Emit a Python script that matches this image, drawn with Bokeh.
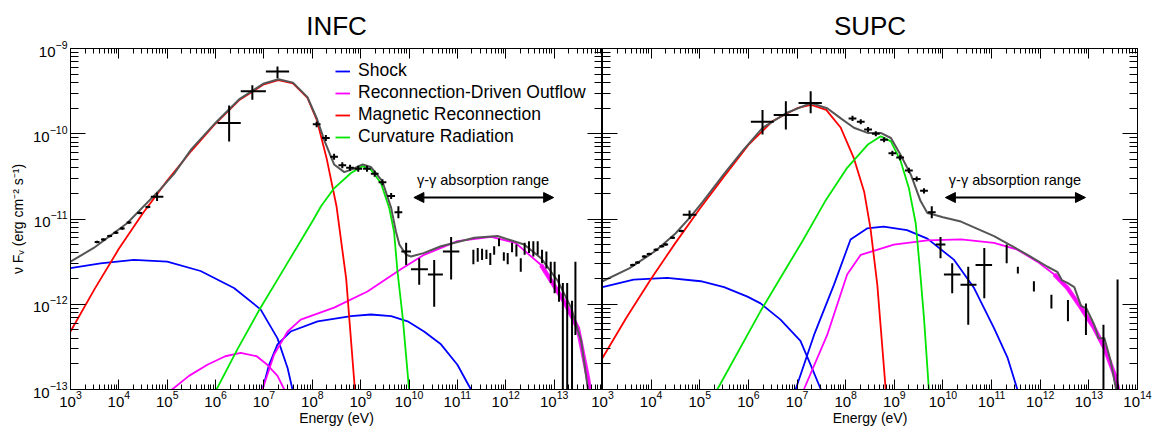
import numpy as np
from bokeh.plotting import figure
from bokeh.layouts import row
from bokeh.models import (LogAxis, FixedTicker, CustomJSTickFormatter, Label, Arrow,
                          NormalHead, Legend, LegendItem)
from bokeh.embed import file_html
from bokeh.resources import INLINE

FONT = "Liberation Sans"
C_SHOCK = "#0000ff"
C_OUT = "#ff00ff"
C_REC = "#ff0000"
C_CURV = "#00e600"
C_TOT = "#555555"

# ---------------- INFC (log10 E [eV], log10 nuFnu [erg cm^-2 s^-1]) ----------------
infc_shock_lo_E = [3.0, 3.62, 4.31, 5.00, 5.69, 6.38, 6.93, 7.28, 7.49, 7.59, 7.63]
infc_shock_lo_F = [-11.575, -11.52, -11.48, -11.50, -11.61, -11.81, -12.06, -12.40, -12.75, -13.0, -13.1]
infc_shock_hi_E = [6.93, 6.97, 7.10, 7.28, 7.55, 8.11, 8.80, 9.21, 9.63, 9.97, 10.31, 10.66, 11.00, 11.28, 11.32]
infc_shock_hi_F = [-13.1, -13.0, -12.72, -12.47, -12.32, -12.20, -12.14, -12.12, -12.14, -12.20, -12.32, -12.47, -12.71, -13.0, -13.06]
infc_out_lo_E = [5.0, 5.10, 5.45, 5.83, 6.20, 6.52, 6.85, 7.07, 7.28, 7.42, 7.47]
infc_out_lo_F = [-13.05, -13.0, -12.84, -12.71, -12.61, -12.57, -12.61, -12.71, -12.84, -13.0, -13.08]
infc_out_hi_E = [6.93, 6.97, 7.21, 7.49, 7.76, 8.45, 9.14, 9.83, 10.31, 11.00, 11.70, 12.20, 12.73, 13.21, 13.49, 13.70, 13.76]
infc_out_hi_F = [-13.1, -13.0, -12.59, -12.32, -12.18, -12.04, -11.85, -11.59, -11.42, -11.26, -11.21, -11.28, -11.54, -11.97, -12.28, -12.87, -13.1]
infc_rec_E = [3.0, 3.5, 4.0, 4.5, 5.0, 5.5, 6.0, 6.5, 7.0, 7.3, 7.6, 7.9, 8.1, 8.3, 8.5, 8.7, 8.88, 8.95]
infc_rec_F = [-12.32, -11.82, -11.35, -10.93, -10.55, -10.20, -9.88, -9.60, -9.42, -9.37, -9.41, -9.58, -9.85, -10.30, -10.85, -11.70, -13.0, -13.4]
infc_curv_E = [6.0, 6.45, 6.89, 7.45, 8.00, 8.18, 8.45, 8.80, 9.04, 9.21, 9.42, 9.59, 9.69, 9.76, 9.87, 10.00, 10.03]
infc_curv_F = [-13.02, -12.53, -12.08, -11.55, -11.03, -10.85, -10.64, -10.46, -10.38, -10.42, -10.58, -10.87, -11.15, -11.61, -12.16, -13.0, -13.2]
infc_tot_E = [3.0, 3.48, 4.17, 4.86, 5.14, 5.5, 6.0, 6.5, 7.0, 7.3, 7.6, 7.9, 8.1, 8.25, 8.45, 8.66, 8.85,
              9.04, 9.21, 9.45, 9.63, 9.73, 9.80, 9.94, 10.04, 10.30, 10.66, 11.35, 11.83, 12.38, 12.73,
              13.08, 13.35, 13.56, 13.70, 13.76]
infc_tot_F = [-11.50, -11.34, -11.05, -10.65, -10.47, -10.18, -9.87, -9.59, -9.41, -9.36, -9.40, -9.57, -9.83,
              -10.08, -10.36, -10.45, -10.41, -10.36, -10.39, -10.56, -10.87, -11.15, -11.30, -11.42, -11.44,
              -11.40, -11.32, -11.22, -11.20, -11.30, -11.46, -11.73, -12.04, -12.43, -13.0, -13.15]

# INFC data points
infc_xray_E = [3.55, 3.68, 3.81, 3.94, 4.07, 4.21, 4.43, 4.60, 4.79]
infc_xray_F = [-11.27, -11.24, -11.20, -11.16, -11.11, -11.04, -10.93, -10.86, -10.74]
infc_xray_dE = [0.05, 0.05, 0.05, 0.05, 0.05, 0.05, 0.05, 0.05, 0.13]
infc_xray_dF = [0.015, 0.015, 0.015, 0.015, 0.015, 0.015, 0.015, 0.015, 0.05]
infc_mev_E = [6.28, 6.76, 7.28]
infc_mev_Elo = [6.04, 6.52, 7.04]
infc_mev_Ehi = [6.52, 7.04, 7.52]
infc_mev_F = [-9.875, -9.50, -9.27]
infc_mev_Flo = [-10.09, -9.60, -9.35]
infc_mev_Fhi = [-9.67, -9.43, -9.21]
infc_lat_E = [8.09, 8.28, 8.45, 8.62, 8.78, 8.95, 9.13, 9.29, 9.45, 9.63, 9.78]
infc_lat_F = [-9.89, -10.05, -10.27, -10.37, -10.40, -10.41, -10.41, -10.47, -10.57, -10.73, -10.92]
infc_lat_dE = [0.08] * 11
infc_lat_dF = [0.035] * 10 + [0.07]
infc_gev_E = [9.94, 10.21, 10.52, 10.87]
infc_gev_Elo = [9.84, 10.04, 10.39, 10.70]
infc_gev_Ehi = [10.04, 10.39, 10.70, 11.04]
infc_gev_F = [-11.38, -11.59, -11.65, -11.38]
infc_gev_Flo = [-11.54, -11.77, -12.03, -11.71]
infc_gev_Fhi = [-11.28, -11.46, -11.48, -11.21]
infc_vhe_E = [11.33, 11.42, 11.51, 11.60, 11.68, 11.76, 11.86, 11.96, 12.04, 12.13, 12.22, 12.31, 12.39,
              12.48, 12.57, 12.66, 12.75, 12.84, 12.93, 13.01, 13.10, 13.18, 13.27, 13.37, 13.44]
infc_vhe_F = [-11.45, -11.42, -11.41, -11.42, -11.47, -11.37, -11.27, -11.44, -11.46, -11.33, -11.37, -11.54,
              -11.35, -11.33, -11.35, -11.34, -11.44, -11.48, -11.62, -11.69, -11.81, -12.0, -12.04, -12.16, -11.93]
infc_vhe_Flo = [-11.53, -11.50, -11.48, -11.47, -11.54, -11.42, -11.32, -11.49, -11.53, -11.39, -11.44, -11.62,
                -11.42, -11.40, -11.44, -11.42, -11.52, -11.58, -11.75, -11.87, -11.97, -14.0, -14.0, -14.0, -12.36]
infc_vhe_Fhi = [-11.36, -11.34, -11.35, -11.36, -11.40, -11.32, -11.23, -11.39, -11.40, -11.28, -11.30, -11.46,
                -11.28, -11.26, -11.26, -11.26, -11.36, -11.38, -11.50, -11.50, -11.65, -11.75, -11.75, -11.96, -11.50]

# ---------------- SUPC ----------------
supc_shock_lo_E = [3.0, 3.64, 4.33, 5.02, 5.5, 5.98, 6.25, 6.66, 7.07, 7.28, 7.49, 7.55]
supc_shock_lo_F = [-11.80, -11.71, -11.69, -11.73, -11.80, -11.91, -11.99, -12.18, -12.43, -12.71, -13.0, -13.1]
supc_shock_hi_E = [6.92, 6.97, 7.35, 7.76, 8.10, 8.44, 8.78, 9.26, 9.68, 10.23, 10.64, 11.05, 11.33, 11.53, 11.58]
supc_shock_hi_F = [-13.1, -13.0, -12.36, -11.77, -11.24, -11.11, -11.09, -11.13, -11.23, -11.48, -11.81, -12.28, -12.63, -13.0, -13.1]
supc_out_E = [7.08, 7.14, 7.62, 8.03, 8.31, 8.99, 9.68, 10.37, 11.05, 11.53, 11.94, 12.29, 12.56, 12.84, 13.11, 13.32, 13.53, 13.60, 13.64]
supc_out_F = [-13.1, -13.0, -12.36, -11.65, -11.42, -11.30, -11.25, -11.24, -11.28, -11.36, -11.50, -11.65, -11.81, -12.04, -12.28, -12.51, -12.83, -13.0, -13.1]
supc_rec_E = [3.0, 3.5, 4.0, 4.5, 5.0, 5.5, 6.0, 6.5, 7.0, 7.28, 7.6, 7.9, 8.17, 8.38, 8.51, 8.65, 8.82, 8.86]
supc_rec_F = [-12.63, -12.15, -11.70, -11.28, -10.88, -10.50, -10.13, -9.85, -9.70, -9.66, -9.72, -9.93, -10.29, -10.68, -11.11, -11.77, -12.98, -13.2]
supc_curv_E = [5.33, 5.36, 6.25, 6.66, 7.11, 7.58, 8.03, 8.45, 8.72, 8.93, 9.13, 9.30, 9.44, 9.52, 9.61, 9.71, 9.74]
supc_curv_F = [-13.05, -13.0, -12.08, -11.69, -11.26, -10.79, -10.40, -10.13, -10.03, -10.09, -10.32, -10.64, -11.05, -11.55, -12.16, -13.0, -13.2]
supc_tot_E = [3.0, 3.55, 4.10, 4.50, 4.80, 5.06, 5.5, 5.88, 6.29, 6.77, 7.28, 7.62, 7.90, 8.17, 8.45, 8.72, 8.93,
              9.13, 9.34, 9.54, 9.68, 9.82, 10.0, 10.37, 11.05, 11.74, 12.15, 12.35, 12.45, 12.56, 12.70, 12.84,
              12.95, 13.11, 13.20, 13.32, 13.45, 13.56, 13.62]
supc_tot_F = [-11.73, -11.58, -11.37, -11.17, -10.98, -10.80, -10.47, -10.20, -9.93, -9.76, -9.64, -9.70, -9.82,
              -9.93, -9.99, -9.99, -10.05, -10.25, -10.48, -10.79, -10.93, -10.95, -10.98, -11.03, -11.20, -11.42,
              -11.56, -11.62, -11.72, -11.75, -11.80, -12.02, -12.05, -12.24, -12.40, -12.40, -12.67, -13.0, -13.2]

supc_xray_E = [3.62, 3.72, 3.86, 3.96, 4.10, 4.22, 4.30, 4.44, 4.62, 4.79]
supc_xray_F = [-11.54, -11.51, -11.44, -11.41, -11.36, -11.32, -11.30, -11.22, -11.14, -10.95]
supc_xray_dE = [0.05] * 9 + [0.14]
supc_xray_dF = [0.015] * 9 + [0.05]
supc_mev_E = [6.29, 6.77, 7.28]
supc_mev_Elo = [6.05, 6.52, 7.03]
supc_mev_Ehi = [6.52, 7.03, 7.51]
supc_mev_F = [-9.86, -9.78, -9.64]
supc_mev_Flo = [-10.01, -9.95, -9.76]
supc_mev_Fhi = [-9.72, -9.62, -9.50]
supc_lat_E = [8.14, 8.31, 8.46, 8.62, 8.79, 8.96, 9.12, 9.30, 9.46, 9.61, 9.77]
supc_lat_F = [-9.82, -9.86, -9.95, -10.00, -10.07, -10.23, -10.28, -10.43, -10.53, -10.67, -10.92]
supc_lat_dE = [0.08] * 11
supc_lat_dF = [0.03] * 10 + [0.07]
supc_gev_E = [9.95, 10.19, 10.52, 10.85]
supc_gev_Elo = [9.85, 10.02, 10.36, 10.67]
supc_gev_Ehi = [10.05, 10.36, 10.69, 11.01]
supc_gev_F = [-11.30, -11.65, -11.77, -11.54]
supc_gev_Flo = [-11.46, -11.87, -12.24, -11.93]
supc_gev_Fhi = [-11.21, -11.52, -11.56, -11.34]
supc_vhe_E = [11.31, 11.54, 11.87, 12.23, 12.57, 12.94, 13.30, 13.59]
supc_vhe_F = [-11.42, -11.60, -11.80, -11.97, -12.08, -12.18, -12.55, -12.36]
supc_vhe_Flo = [-11.52, -11.64, -11.85, -12.05, -12.20, -12.36, -14.0, -14.0]
supc_vhe_Fhi = [-11.30, -11.56, -11.73, -11.89, -11.95, -11.99, -12.24, -11.71]

legend_labels = ["Shock", "Reconnection-Driven Outflow", "Magnetic Reconnection", "Curvature Radiation"]
x_tick_exp = list(range(3, 15))
y_tick_exp = list(range(-13, -8))

XMIN = [m * 10.0 ** k for k in range(3, 14) for m in range(2, 10)]
YMIN = [m * 10.0 ** k for k in range(-13, -9) for m in range(2, 10)]
YMAJ = [10.0 ** k for k in y_tick_exp]


def P(a):
    return 10.0 ** np.asarray(a, dtype=float)


def style_axis(ax, tin, tmin, labels=True):
    ax.major_tick_in = tin
    ax.major_tick_out = 0
    ax.minor_tick_in = tmin
    ax.minor_tick_out = 0
    ax.axis_line_color = "black"
    ax.major_tick_line_color = "black"
    ax.minor_tick_line_color = "black"
    ax.major_label_text_font = FONT
    ax.major_label_text_color = "black"
    if labels:
        ax.major_label_text_font_size = "15px"
        ax.major_label_standoff = 1
    else:
        ax.formatter = CustomJSTickFormatter(code="return ''")
        ax.major_label_text_font_size = "0px"
        ax.major_label_standoff = 0


def make_fig(title, fw, left, right, xmajor, ylabels):
    p = figure(x_axis_type="log", y_axis_type="log", x_range=(1e3, 1e14), y_range=(1e-13, 1e-9),
               frame_width=fw, frame_height=341, min_border_left=left, min_border_right=right,
               min_border_top=47, min_border_bottom=30, output_backend="svg",
               toolbar_location=None, title=title)
    p.title.text_font = FONT
    p.title.text_font_size = "26px"
    p.title.text_font_style = "normal"
    p.title.text_color = "black"
    p.title.align = "center"
    p.title.standoff = 16
    p.xgrid.visible = False
    p.ygrid.visible = False
    p.outline_line_color = "black"
    p.background_fill_color = "white"

    p.xaxis.ticker = FixedTicker(ticks=xmajor, minor_ticks=XMIN)
    style_axis(p.xaxis[0], 10, 5)
    p.xaxis.axis_label = "Energy (eV)"
    p.xaxis.axis_label_text_font = FONT
    p.xaxis.axis_label_text_font_size = "14px"
    p.xaxis.axis_label_text_font_style = "normal"
    p.xaxis.axis_label_text_color = "black"
    p.xaxis.axis_label_standoff = 0

    p.yaxis.ticker = FixedTicker(ticks=YMAJ, minor_ticks=YMIN)
    style_axis(p.yaxis[0], 15, 8, labels=ylabels)
    if ylabels:
        p.yaxis.major_label_standoff = 3
        p.yaxis.axis_label = "\u03bd F\u1d65 (erg cm\u207b\u00b2 s\u207b\u00b9)"
        p.yaxis.axis_label_text_font = FONT
        p.yaxis.axis_label_text_font_size = "14px"
        p.yaxis.axis_label_text_font_style = "normal"
        p.yaxis.axis_label_text_color = "black"
        p.yaxis.axis_label_standoff = 4

    top = LogAxis(ticker=FixedTicker(ticks=xmajor, minor_ticks=XMIN))
    style_axis(top, 10, 5, labels=False)
    p.add_layout(top, "above")
    rgt = LogAxis(ticker=FixedTicker(ticks=YMAJ, minor_ticks=YMIN))
    style_axis(rgt, 15, 8, labels=False)
    p.add_layout(rgt, "right")
    return p


def line(p, E, F, color, width=1.8):
    return p.line(P(E), P(F), line_color=color, line_width=width, line_join="round")


def crosses(p, E, F, Elo, Ehi, Flo, Fhi):
    p.segment(x0=P(Elo), y0=P(F), x1=P(Ehi), y1=P(F), line_color="black", line_width=2)
    p.segment(x0=P(E), y0=P(Flo), x1=P(E), y1=P(Fhi), line_color="black", line_width=2)


def sym(E, F, dE, dF):
    E, F, dE, dF = map(np.asarray, (E, F, dE, dF))
    return E, F, E - dE, E + dE, F - dF, F + dF


def panel(p, d):
    r_s1 = line(p, d["shock_lo_E"], d["shock_lo_F"], C_SHOCK)
    line(p, d["shock_hi_E"], d["shock_hi_F"], C_SHOCK)
    r_o = None
    for E, F in d["out"]:
        r = line(p, E, F, C_OUT)
        r_o = r_o or r
        E = np.asarray(E); F = np.asarray(F)
        m = E >= d["noisy_from"]
        if m.sum() > 1:
            p.line(P(E[m]), P(F[m]), line_color=C_OUT, line_width=4.5, line_alpha=0.9)
    r_r = line(p, d["rec_E"], d["rec_F"], C_REC)
    r_c = line(p, d["curv_E"], d["curv_F"], C_CURV)
    line(p, d["tot_E"], d["tot_F"], C_TOT, width=2)
    crosses(p, *sym(d["xray_E"], d["xray_F"], d["xray_dE"], d["xray_dF"]))
    crosses(p, d["mev_E"], d["mev_F"], d["mev_Elo"], d["mev_Ehi"], d["mev_Flo"], d["mev_Fhi"])
    crosses(p, *sym(d["lat_E"], d["lat_F"], d["lat_dE"], d["lat_dF"]))
    crosses(p, d["gev_E"], d["gev_F"], d["gev_Elo"], d["gev_Ehi"], d["gev_Flo"], d["gev_Fhi"])
    crosses(p, d["vhe_E"], d["vhe_F"], d["vhe_E"], d["vhe_E"], d["vhe_Flo"], d["vhe_Fhi"])
    return [r_s1, r_o, r_r, r_c]


def gg_annotation(p, e0, e1, ef, ytxt, yarr):
    p.add_layout(Arrow(start=NormalHead(size=10, fill_color="black", line_color="black"),
                       end=NormalHead(size=10, fill_color="black", line_color="black"),
                       x_start=10 ** e0, x_end=10 ** e1, y_start=10 ** yarr, y_end=10 ** yarr,
                       line_color="black", line_width=2))
    p.add_layout(Label(x=10 ** ef, y=10 ** ytxt, text="\u03b3-\u03b3 absorption range",
                       text_align="center", text_baseline="middle", text_font=FONT,
                       text_font_size="14.5px", text_color="black"))


infc = dict(shock_lo_E=infc_shock_lo_E, shock_lo_F=infc_shock_lo_F,
            shock_hi_E=infc_shock_hi_E, shock_hi_F=infc_shock_hi_F,
            out=[(infc_out_lo_E, infc_out_lo_F), (infc_out_hi_E, infc_out_hi_F)], noisy_from=12.7,
            rec_E=infc_rec_E, rec_F=infc_rec_F, curv_E=infc_curv_E, curv_F=infc_curv_F,
            tot_E=infc_tot_E, tot_F=infc_tot_F,
            xray_E=infc_xray_E, xray_F=infc_xray_F, xray_dE=infc_xray_dE, xray_dF=infc_xray_dF,
            mev_E=infc_mev_E, mev_F=infc_mev_F, mev_Elo=infc_mev_Elo, mev_Ehi=infc_mev_Ehi,
            mev_Flo=infc_mev_Flo, mev_Fhi=infc_mev_Fhi,
            lat_E=infc_lat_E, lat_F=infc_lat_F, lat_dE=infc_lat_dE, lat_dF=infc_lat_dF,
            gev_E=infc_gev_E, gev_F=infc_gev_F, gev_Elo=infc_gev_Elo, gev_Ehi=infc_gev_Ehi,
            gev_Flo=infc_gev_Flo, gev_Fhi=infc_gev_Fhi,
            vhe_E=infc_vhe_E, vhe_F=infc_vhe_F, vhe_Flo=infc_vhe_Flo, vhe_Fhi=infc_vhe_Fhi)
supc = dict(shock_lo_E=supc_shock_lo_E, shock_lo_F=supc_shock_lo_F,
            shock_hi_E=supc_shock_hi_E, shock_hi_F=supc_shock_hi_F,
            out=[(supc_out_E, supc_out_F)], noisy_from=12.0,
            rec_E=supc_rec_E, rec_F=supc_rec_F, curv_E=supc_curv_E, curv_F=supc_curv_F,
            tot_E=supc_tot_E, tot_F=supc_tot_F,
            xray_E=supc_xray_E, xray_F=supc_xray_F, xray_dE=supc_xray_dE, xray_dF=supc_xray_dF,
            mev_E=supc_mev_E, mev_F=supc_mev_F, mev_Elo=supc_mev_Elo, mev_Ehi=supc_mev_Ehi,
            mev_Flo=supc_mev_Flo, mev_Fhi=supc_mev_Fhi,
            lat_E=supc_lat_E, lat_F=supc_lat_F, lat_dE=supc_lat_dE, lat_dF=supc_lat_dF,
            gev_E=supc_gev_E, gev_F=supc_gev_F, gev_Elo=supc_gev_Elo, gev_Ehi=supc_gev_Ehi,
            gev_Flo=supc_gev_Flo, gev_Fhi=supc_gev_Fhi,
            vhe_E=supc_vhe_E, vhe_F=supc_vhe_F, vhe_Flo=supc_vhe_Flo, vhe_Fhi=supc_vhe_Fhi)

p1 = make_fig("INFC", 532, 70, 0, [10.0 ** k for k in x_tick_exp[:-1]], True)
p2 = make_fig("SUPC", 535, 12, 16, [10.0 ** k for k in x_tick_exp], False)
p2.border_fill_color = None
p2.margin = (0, 0, 0, -12)

rs = panel(p1, infc)
panel(p2, supc)

leg = Legend(items=[LegendItem(label=lab, renderers=[r]) for lab, r in zip(legend_labels, rs)],
             location=(263, 240), glyph_width=15, glyph_height=20, label_height=20,
             label_standoff=8, spacing=1, padding=2, margin=0,
             border_line_alpha=0, background_fill_alpha=0,
             label_text_font=FONT, label_text_font_size="17.5px", label_text_color="black")
p1.add_layout(leg)

gg_annotation(p1, 10.10, 12.99, 11.53, -10.54, -10.748)
gg_annotation(p2, 10.05, 12.93, 11.48, -10.54, -10.748)

layout = row(p1, p2)
open("out.html", "w").write(file_html(layout, INLINE))
